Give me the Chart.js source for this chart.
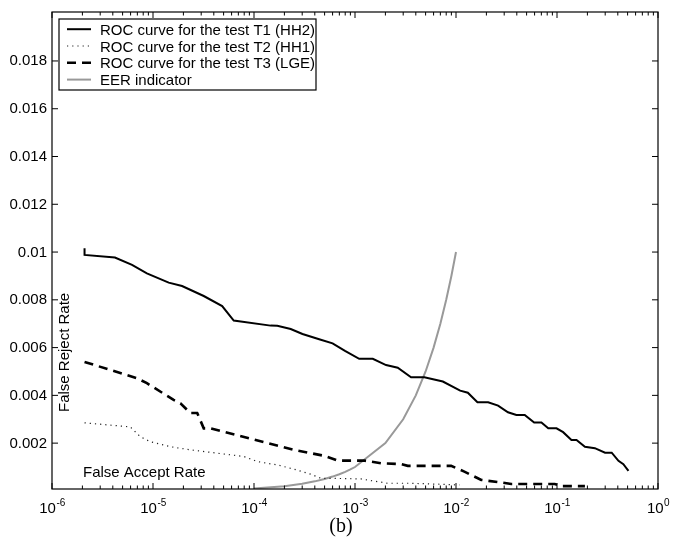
<!DOCTYPE html>
<html>
<head>
<meta charset="utf-8">
<script src="https://cdn.jsdelivr.net/npm/chart.js@4"></script>
<style>
  body { margin: 0; background: #fff; }
  canvas { display: block; }
</style>
</head>
<body>
<canvas id="roc" width="680" height="537"></canvas>
<script>
// -------------------------
// Data
// -------------------------
const t1X = [2.1e-6, 2.1e-6, 4.2e-6, 6.2e-6, 8.7e-6, 1.43e-5, 1.94e-5, 3.18e-5, 4.84e-5, 6.3e-5, 1.46e-4, 1.7e-4, 2.31e-4, 3.02e-4, 4.42e-4, 6.0e-4, 7.96e-4, 1.1e-3, 1.5e-3, 2.03e-3, 2.65e-3, 3.59e-3, 4.86e-3, 7.41e-3, 1.1e-2, 1.31e-2, 1.63e-2, 2.08e-2, 2.61e-2, 3.27e-2, 3.96e-2, 4.79e-2, 5.94e-2, 7.01e-2, 8.19e-2, 9.89e-2, 0.115, 0.139, 0.156, 0.189, 0.237, 0.299, 0.348, 0.406, 0.454, 0.51];
const t1Y = [0.01016, 0.00988, 0.00977, 0.00946, 0.00911, 0.00872, 0.00858, 0.00816, 0.00774, 0.00713, 0.00692, 0.00691, 0.00678, 0.00657, 0.00635, 0.00618, 0.00586, 0.00553, 0.00553, 0.00527, 0.00516, 0.00476, 0.00476, 0.00458, 0.0042, 0.00411, 0.00371, 0.00371, 0.00357, 0.00329, 0.00318, 0.00318, 0.00286, 0.00286, 0.00262, 0.00262, 0.00246, 0.00213, 0.00213, 0.00185, 0.00179, 0.0016, 0.0016, 0.00126, 0.00112, 0.00084];

const t2X = [2.1e-6, 5.96e-6, 7.48e-6, 9.4e-6, 1.49e-5, 2.34e-5, 5.86e-5, 7.94e-5, 1.08e-4, 1.46e-4, 1.7e-4, 2.49e-4, 3.65e-4, 4.58e-4, 7.24e-4, 1.15e-3, 2.11e-3, 3.59e-3, 1.08e-2];
const t2Y = [0.00285, 0.00268, 0.00227, 0.00206, 0.00185, 0.00172, 0.00151, 0.00144, 0.00123, 0.00113, 0.00109, 0.00091, 0.0007, 0.00053, 0.00052, 0.0005, 0.00032, 0.00032, 0.00025];

const t3X = [2.1e-6, 6.93e-6, 8.7e-6, 1.6e-5, 1.87e-5, 2.34e-5, 2.74e-5, 3.18e-5, 3.71e-5, 1.25e-4, 2.49e-4, 4.94e-4, 6.72e-4, 1.23e-3, 1.81e-3, 2.86e-3, 3.33e-3, 8.95e-3, 1.21e-2, 1.78e-2, 2.81e-2, 3.53e-2, 9.51e-2, 0.111, 0.189];
const t3Y = [0.0054, 0.00472, 0.00451, 0.00381, 0.00367, 0.00326, 0.00326, 0.00262, 0.00262, 0.00204, 0.00172, 0.00147, 0.00127, 0.00127, 0.00116, 0.00112, 0.00105, 0.00105, 0.00081, 0.00046, 0.00035, 0.00029, 0.00029, 0.0002, 0.0002];

const eerX = [0.0001, 0.0002, 0.0003, 0.0004, 0.0005, 0.0006, 0.0007, 0.0008, 0.0009, 0.001, 0.002, 0.003, 0.004, 0.005, 0.006, 0.007, 0.008, 0.009, 0.01];
const eerY = [0.0001, 0.0002, 0.0003, 0.0004, 0.0005, 0.0006, 0.0007, 0.0008, 0.0009, 0.001, 0.002, 0.003, 0.004, 0.005, 0.006, 0.007, 0.008, 0.009, 0.01];

const seriesLabels = [
    'ROC curve for the test T1 (HH2)',
    'ROC curve for the test T2 (HH1)',
    'ROC curve for the test T3 (LGE)',
    'EER indicator'
];

const xTicks = [1e-6, 1e-5, 1e-4, 1e-3, 1e-2, 1e-1, 1];
const xTickExp = ['-6', '-5', '-4', '-3', '-2', '-1', '0'];
const yTicks = [0.002, 0.004, 0.006, 0.008, 0.01, 0.012, 0.014, 0.016, 0.018];
const yTickLabels = ['0.002', '0.004', '0.006', '0.008', '0.01', '0.012', '0.014', '0.016', '0.018'];

const FONT = '"Liberation Sans", Arial, Helvetica, sans-serif';

const pts = (xs, ys) => xs.map((v, i) => ({ x: v, y: ys[i] }));

const styles = [
    { color: '#000', width: 2, dash: [] },
    { color: '#222', width: 1.2, dash: [1.2, 4] },
    { color: '#000', width: 2.6, dash: [9, 6] },
    { color: '#999', width: 2, dash: [] }
];

// -------------------------
// Frame, ticks, legend and labels (MATLAB look)
// -------------------------
const matlabFrame = {
    id: 'matlabFrame',
    afterDatasetsDraw(chart) {
        const { ctx, chartArea: a, scales: { x, y } } = chart;
        ctx.save();
        ctx.strokeStyle = '#000';
        ctx.lineWidth = 1.2;
        ctx.setLineDash([]);
        ctx.strokeRect(a.left, a.top, a.right - a.left, a.bottom - a.top);

        // x ticks (major + minor), bottom and top, pointing inwards
        ctx.lineWidth = 1;
        ctx.beginPath();
        xTicks.forEach((t, i) => {
            const p = x.getPixelForValue(t);
            ctx.moveTo(p, a.bottom); ctx.lineTo(p, a.bottom - 6);
            ctx.moveTo(p, a.top); ctx.lineTo(p, a.top + 6);
            if (i < xTicks.length - 1) {
                for (let m = 2; m <= 9; m++) {
                    const q = x.getPixelForValue(t * m);
                    ctx.moveTo(q, a.bottom); ctx.lineTo(q, a.bottom - 3.5);
                    ctx.moveTo(q, a.top); ctx.lineTo(q, a.top + 3.5);
                }
            }
        });
        yTicks.forEach(t => {
            const p = y.getPixelForValue(t);
            ctx.moveTo(a.left, p); ctx.lineTo(a.left + 6, p);
            ctx.moveTo(a.right, p); ctx.lineTo(a.right - 6, p);
        });
        ctx.stroke();

        // y tick labels
        ctx.fillStyle = '#000';
        ctx.font = '15px ' + FONT;
        ctx.textAlign = 'right';
        ctx.textBaseline = 'alphabetic';
        yTicks.forEach((t, i) => {
            ctx.fillText(yTickLabels[i], a.left - 5, y.getPixelForValue(t) + 4.5);
        });

        // x tick labels: 10 with superscript exponent
        ctx.textAlign = 'left';
        xTicks.forEach((t, i) => {
            const p = x.getPixelForValue(t);
            ctx.font = '15px ' + FONT;
            const wBase = ctx.measureText('10').width;
            ctx.font = '10px ' + FONT;
            const wExp = ctx.measureText(xTickExp[i]).width;
            const x0 = p - (wBase + wExp) / 2;
            ctx.font = '15px ' + FONT;
            ctx.fillText('10', x0, a.bottom + 24);
            ctx.font = '10px ' + FONT;
            ctx.fillText(xTickExp[i], x0 + wBase + 0.5, a.bottom + 17);
        });

        // axis labels placed inside the plot, as in the figure
        ctx.font = '15px ' + FONT;
        ctx.fillText('False Accept Rate', a.left + 31, a.bottom - 12.5);
        ctx.save();
        ctx.translate(a.left + 17, a.top + 400);
        ctx.rotate(-Math.PI / 2);
        ctx.fillText('False Reject Rate', 0, 0);
        ctx.restore();

        // caption
        ctx.font = '20px "Liberation Serif", "Times New Roman", serif';
        ctx.textAlign = 'center';
        ctx.fillText('(b)', 341, 532);

        // legend box
        const lx = a.left + 7, ly = a.top + 7, lw = 257, lh = 71;
        ctx.fillStyle = '#fff';
        ctx.fillRect(lx, ly, lw, lh);
        ctx.strokeStyle = '#000';
        ctx.lineWidth = 1.2;
        ctx.strokeRect(lx, ly, lw, lh);
        ctx.font = '15px ' + FONT;
        ctx.textAlign = 'left';
        seriesLabels.forEach((lab, i) => {
            const base = ly + 15.7 + i * 16.8;
            const s = styles[i];
            ctx.strokeStyle = s.color;
            ctx.lineWidth = s.width;
            ctx.setLineDash(s.dash);
            ctx.beginPath();
            ctx.moveTo(lx + 8, base - 5.5);
            ctx.lineTo(lx + 32, base - 5.5);
            ctx.stroke();
            ctx.setLineDash([]);
            ctx.fillStyle = '#000';
            ctx.fillText(lab, lx + 41, base);
        });
        ctx.restore();
    }
};

const seriesData = [pts(t1X, t1Y), pts(t2X, t2Y), pts(t3X, t3Y), pts(eerX, eerY)];

const rocChart = new Chart(document.getElementById('roc').getContext('2d'), {
    type: 'line',
    data: {
        datasets: seriesData.map((d, i) => ({
            label: seriesLabels[i],
            data: d,
            borderColor: styles[i].color,
            borderWidth: styles[i].width,
            borderDash: styles[i].dash,
            pointRadius: 0,
            fill: false,
            tension: 0
        }))
    },
    options: {
        responsive: false,
        animation: false,
        layout: { padding: { left: 52, right: 22, top: 12, bottom: 48 } },
        plugins: { legend: { display: false }, tooltip: { enabled: false } },
        scales: {
            x: { type: 'logarithmic', min: 1e-6, max: 1, display: false },
            y: { type: 'linear', min: 0.00008, max: 0.02005, display: false }
        }
    },
    plugins: [matlabFrame]
});
</script>
</body>
</html>
